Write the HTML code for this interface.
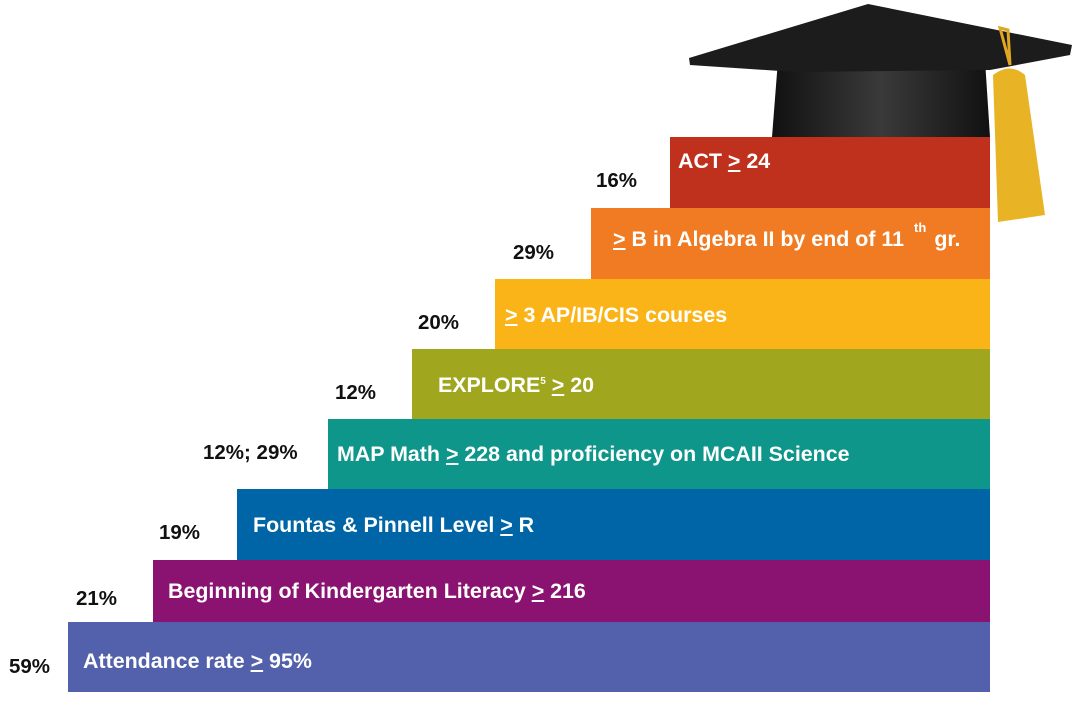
<!DOCTYPE html>
<html><head><style>
body{margin:0;width:1072px;height:702px;background:#fff;position:relative;overflow:hidden;font-family:"Liberation Sans",sans-serif;}
.b{position:absolute;color:#fff;font-weight:bold;font-size:21.4px;box-sizing:border-box;padding-left:14px;}
.p{position:absolute;color:#111;font-weight:bold;font-size:20.5px;}
u{text-decoration:underline;}
</style></head><body>
<svg style="position:absolute;left:0;top:0" width="1072" height="702">
<defs><linearGradient id="g" x1="0" x2="1"><stop offset="0" stop-color="#111"/><stop offset="0.5" stop-color="#3a3a3a"/><stop offset="1" stop-color="#111"/></linearGradient></defs>
<path d="M778,60 L985,60 L990,137 L772,137 Z" fill="url(#g)"/>
<path d="M689,58 L868,4 L1072,45 L1070,55 L990,70 L795,72 L690,65 Z" fill="#1c1c1c"/>
<path d="M1000,28 L1008,30 L1010,65 Z" stroke="#e0a820" stroke-width="3" fill="none"/>
<path d="M993,75 Q1010,62 1025,75 L1045,215 L998,222 Z" fill="#e8b325"/>
</svg>
<div class="b" style="left:670px;top:137px;width:320px;height:71px;background:#bf311c;padding-top:12px;padding-left:8px">ACT <u>&gt;</u> 24</div>
<div class="b" style="left:591px;top:208px;width:399px;height:71px;background:#f07b22;padding-top:18px;padding-left:22px"><u>&gt;</u> B in Algebra II by end of 11<sup style="font-size:13px;position:relative;top:-6px;margin-left:10px;margin-right:8px">th</sup>gr.</div>
<div class="b" style="left:495px;top:279px;width:495px;height:70px;background:#fbb417;padding-top:24px;padding-left:10px"><u>&gt;</u> 3 AP/IB/CIS courses</div>
<div class="b" style="left:412px;top:349px;width:578px;height:70px;background:#a0a71e;padding-top:24px;padding-left:26px">EXPLORE<sup style="font-size:10px">5</sup> <u>&gt;</u> 20</div>
<div class="b" style="left:328px;top:419px;width:662px;height:71px;background:#0e968a;padding-top:23px;padding-left:9px">MAP Math <u>&gt;</u> 228 and proficiency on MCAII Science</div>
<div class="b" style="left:237px;top:489px;width:753px;height:71px;background:#0065a6;padding-top:24px;padding-left:16px">Fountas &amp; Pinnell Level <u>&gt;</u> R</div>
<div class="b" style="left:153px;top:560px;width:837px;height:62px;background:#8a1270;padding-top:19px;padding-left:15px">Beginning of Kindergarten Literacy <u>&gt;</u> 216</div>
<div class="b" style="left:68px;top:622px;width:922px;height:70px;background:#5360ab;padding-top:27px;padding-left:15px">Attendance rate <u>&gt;</u> 95%</div>
<div class="p" style="left:596px;top:169px">16%</div>
<div class="p" style="left:513px;top:241px">29%</div>
<div class="p" style="left:418px;top:311px">20%</div>
<div class="p" style="left:335px;top:381px">12%</div>
<div class="p" style="left:203px;top:441px">12%; 29%</div>
<div class="p" style="left:159px;top:521px">19%</div>
<div class="p" style="left:76px;top:587px">21%</div>
<div class="p" style="left:9px;top:655px">59%</div>
</body></html>
